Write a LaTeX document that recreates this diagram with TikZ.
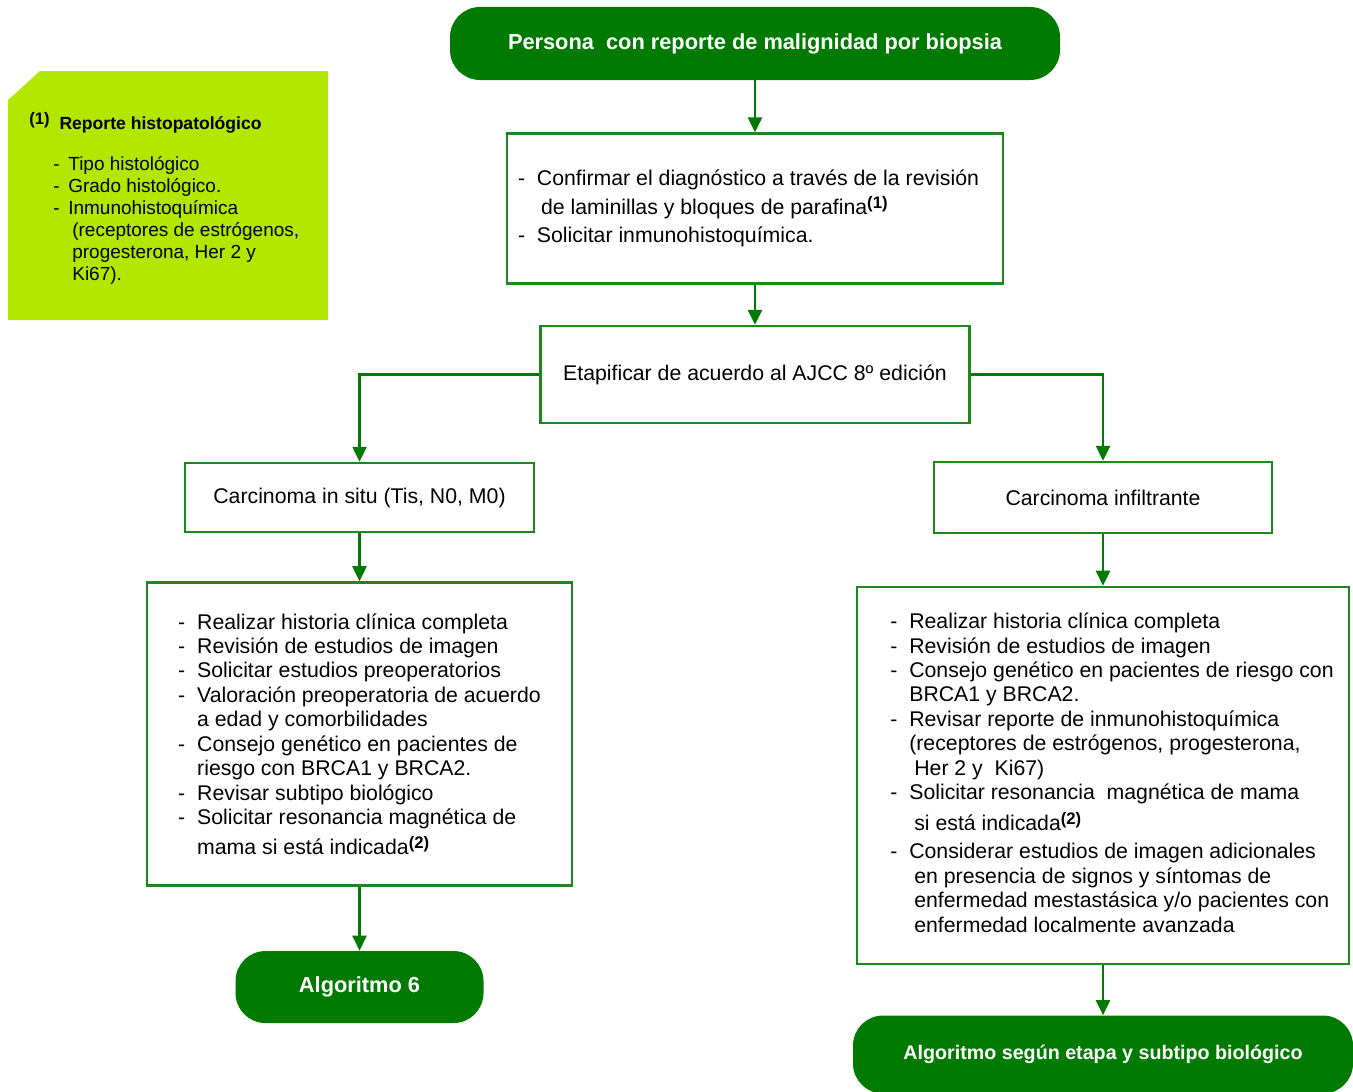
\documentclass[tikz,border=0pt]{standalone}
\usepackage{fontspec}
\setmainfont{Liberation Sans}
\usetikzlibrary{positioning,arrows.meta}

\definecolor{verdeosc}{RGB}{0,122,0}
\definecolor{verdeborde}{RGB}{30,135,30}
\definecolor{lima}{RGB}{178,232,0}

\newcommand{\llamada}[1]{\raisebox{0.55ex}{\fontsize{9.5}{10}\selectfont\bfseries(#1)}}
\newcommand{\guion}{\makebox[0.38cm][l]{-}}
\newcommand{\sangria}{\hspace*{0.38cm}}
\newcommand{\sangriab}{\hspace*{0.48cm}}

\begin{document}
\begin{tikzpicture}[
    caja/.style={
        draw=verdeborde,
        line width=1.4pt,
        align=left,
        inner sep=0pt,
        font=\fontsize{12.1}{13.9}\selectfont
    },
    pastilla/.style={
        fill=verdeosc,
        rounded corners=0.6cm,
        text=white,
        align=center,
        font=\fontsize{12.4}{14}\selectfont\bfseries
    },
    flecha/.style={
        draw=verdeosc,
        line width=1.4pt,
        -{Triangle[width=0.28cm,length=0.3cm]}
    }
]

\useasboundingbox (0,0) rectangle (27.06,-21.82);

\fill[lima] (0.8,-1.42) -- (6.56,-1.42) -- (6.56,-6.4) -- (0.16,-6.4) -- (0.16,-2.0) -- cycle;

\node[anchor=north west, inner sep=0pt, align=left,
      font=\fontsize{10.8}{12.5}\selectfont] (nota) at (0.58,-2.24)
{{\fontsize{10}{12}\selectfont\bfseries\llamada{1}\ \ Reporte histopatológico}\\[0.38cm]
\hspace*{0.48cm}\makebox[0.3cm][l]{-}Tipo histológico\\
\hspace*{0.48cm}\makebox[0.3cm][l]{-}Grado histológico.\\
\hspace*{0.48cm}\makebox[0.3cm][l]{-}Inmunohistoquímica\\
\hspace*{0.86cm}(receptores de estrógenos,\\
\hspace*{0.86cm}progesterona, Her 2 y\\
\hspace*{0.86cm}Ki67).};

\node[pastilla, minimum width=12.2cm, minimum height=1.46cm] (persona) at (15.1,-0.87)
{Persona\ \ con reporte de malignidad por biopsia};

\node[caja, minimum width=9.92cm, minimum height=3cm,
      font=\fontsize{12.1}{16.2}\selectfont, below=1.04cm of persona] (confirmar)
{\begin{tabular}{@{}l@{\hspace{0.26cm}}}
\guion Confirmar el diagnóstico a través de la revisión\\
\hspace*{0.46cm}de laminillas y bloques de parafina\llamada{1}\\
\guion Solicitar inmunohistoquímica.
\end{tabular}};

\node[caja, minimum width=8.58cm, minimum height=1.94cm, below=0.8cm of confirmar] (etapa)
{Etapificar de acuerdo al AJCC 8º edición};

\node[caja, minimum width=6.98cm, minimum height=1.38cm] (insitu) at (7.19,-9.95)
{Carcinoma in situ (Tis, N0, M0)};

\node[caja, minimum width=6.76cm, minimum height=1.42cm] (infiltrante) at (22.06,-9.95)
{Carcinoma infiltrante};

\node[caja, minimum width=8.5cm, minimum height=6.06cm, below=0.96cm of insitu] (accionesA)
{\guion Realizar historia clínica completa\\
\guion Revisión de estudios de imagen\\
\guion Solicitar estudios preoperatorios\\
\guion Valoración preoperatoria de acuerdo\\
\sangria a edad y comorbilidades\\
\guion Consejo genético en pacientes de\\
\sangria riesgo con BRCA1 y BRCA2.\\
\guion Revisar subtipo biológico\\
\guion Solicitar resonancia magnética de\\[0.11cm]
\sangria mama si está indicada\llamada{2}};

\node[caja, minimum width=9.84cm, minimum height=7.54cm, below=1.03cm of infiltrante] (accionesB)
{\begin{tabular}{@{\hspace{0.36cm}}l@{}}
\guion Realizar historia clínica completa\\
\guion Revisión de estudios de imagen\\
\guion Consejo genético en pacientes de riesgo con\\
\sangria BRCA1 y BRCA2.\\
\guion Revisar reporte de inmunohistoquímica\\
\sangria (receptores de estrógenos, progesterona,\\
\sangriab Her 2 y\ \ Ki67)\\
\guion Solicitar resonancia\ \ magnética de mama\\[0.11cm]
\sangriab si está indicada\llamada{2}\\[0.07cm]
\guion Considerar estudios de imagen adicionales\\
\sangriab en presencia de signos y síntomas de\\
\sangriab enfermedad mestastásica y/o pacientes con\\
\sangriab enfermedad localmente avanzada
\end{tabular}};

\node[pastilla, minimum width=4.96cm, minimum height=1.44cm, below=1.28cm of accionesA] (algoritmoA)
{Algoritmo 6};

\node[pastilla, minimum width=10cm, minimum height=1.56cm,
      font=\fontsize{11.2}{13}\selectfont\bfseries, below=1.0cm of accionesB] (algoritmoB)
{Algoritmo según etapa y subtipo biológico};

\draw[flecha] (persona) -- (confirmar);
\draw[flecha] (confirmar) -- (etapa);
\draw[flecha] (etapa.west) -| (insitu.north);
\draw[flecha] (etapa.east) -| (infiltrante.north);
\draw[flecha] (insitu) -- (accionesA);
\draw[flecha] (infiltrante) -- (accionesB);
\draw[flecha] (accionesA) -- (algoritmoA);
\draw[flecha] (accionesB) -- (algoritmoB);

\end{tikzpicture}
\end{document}
